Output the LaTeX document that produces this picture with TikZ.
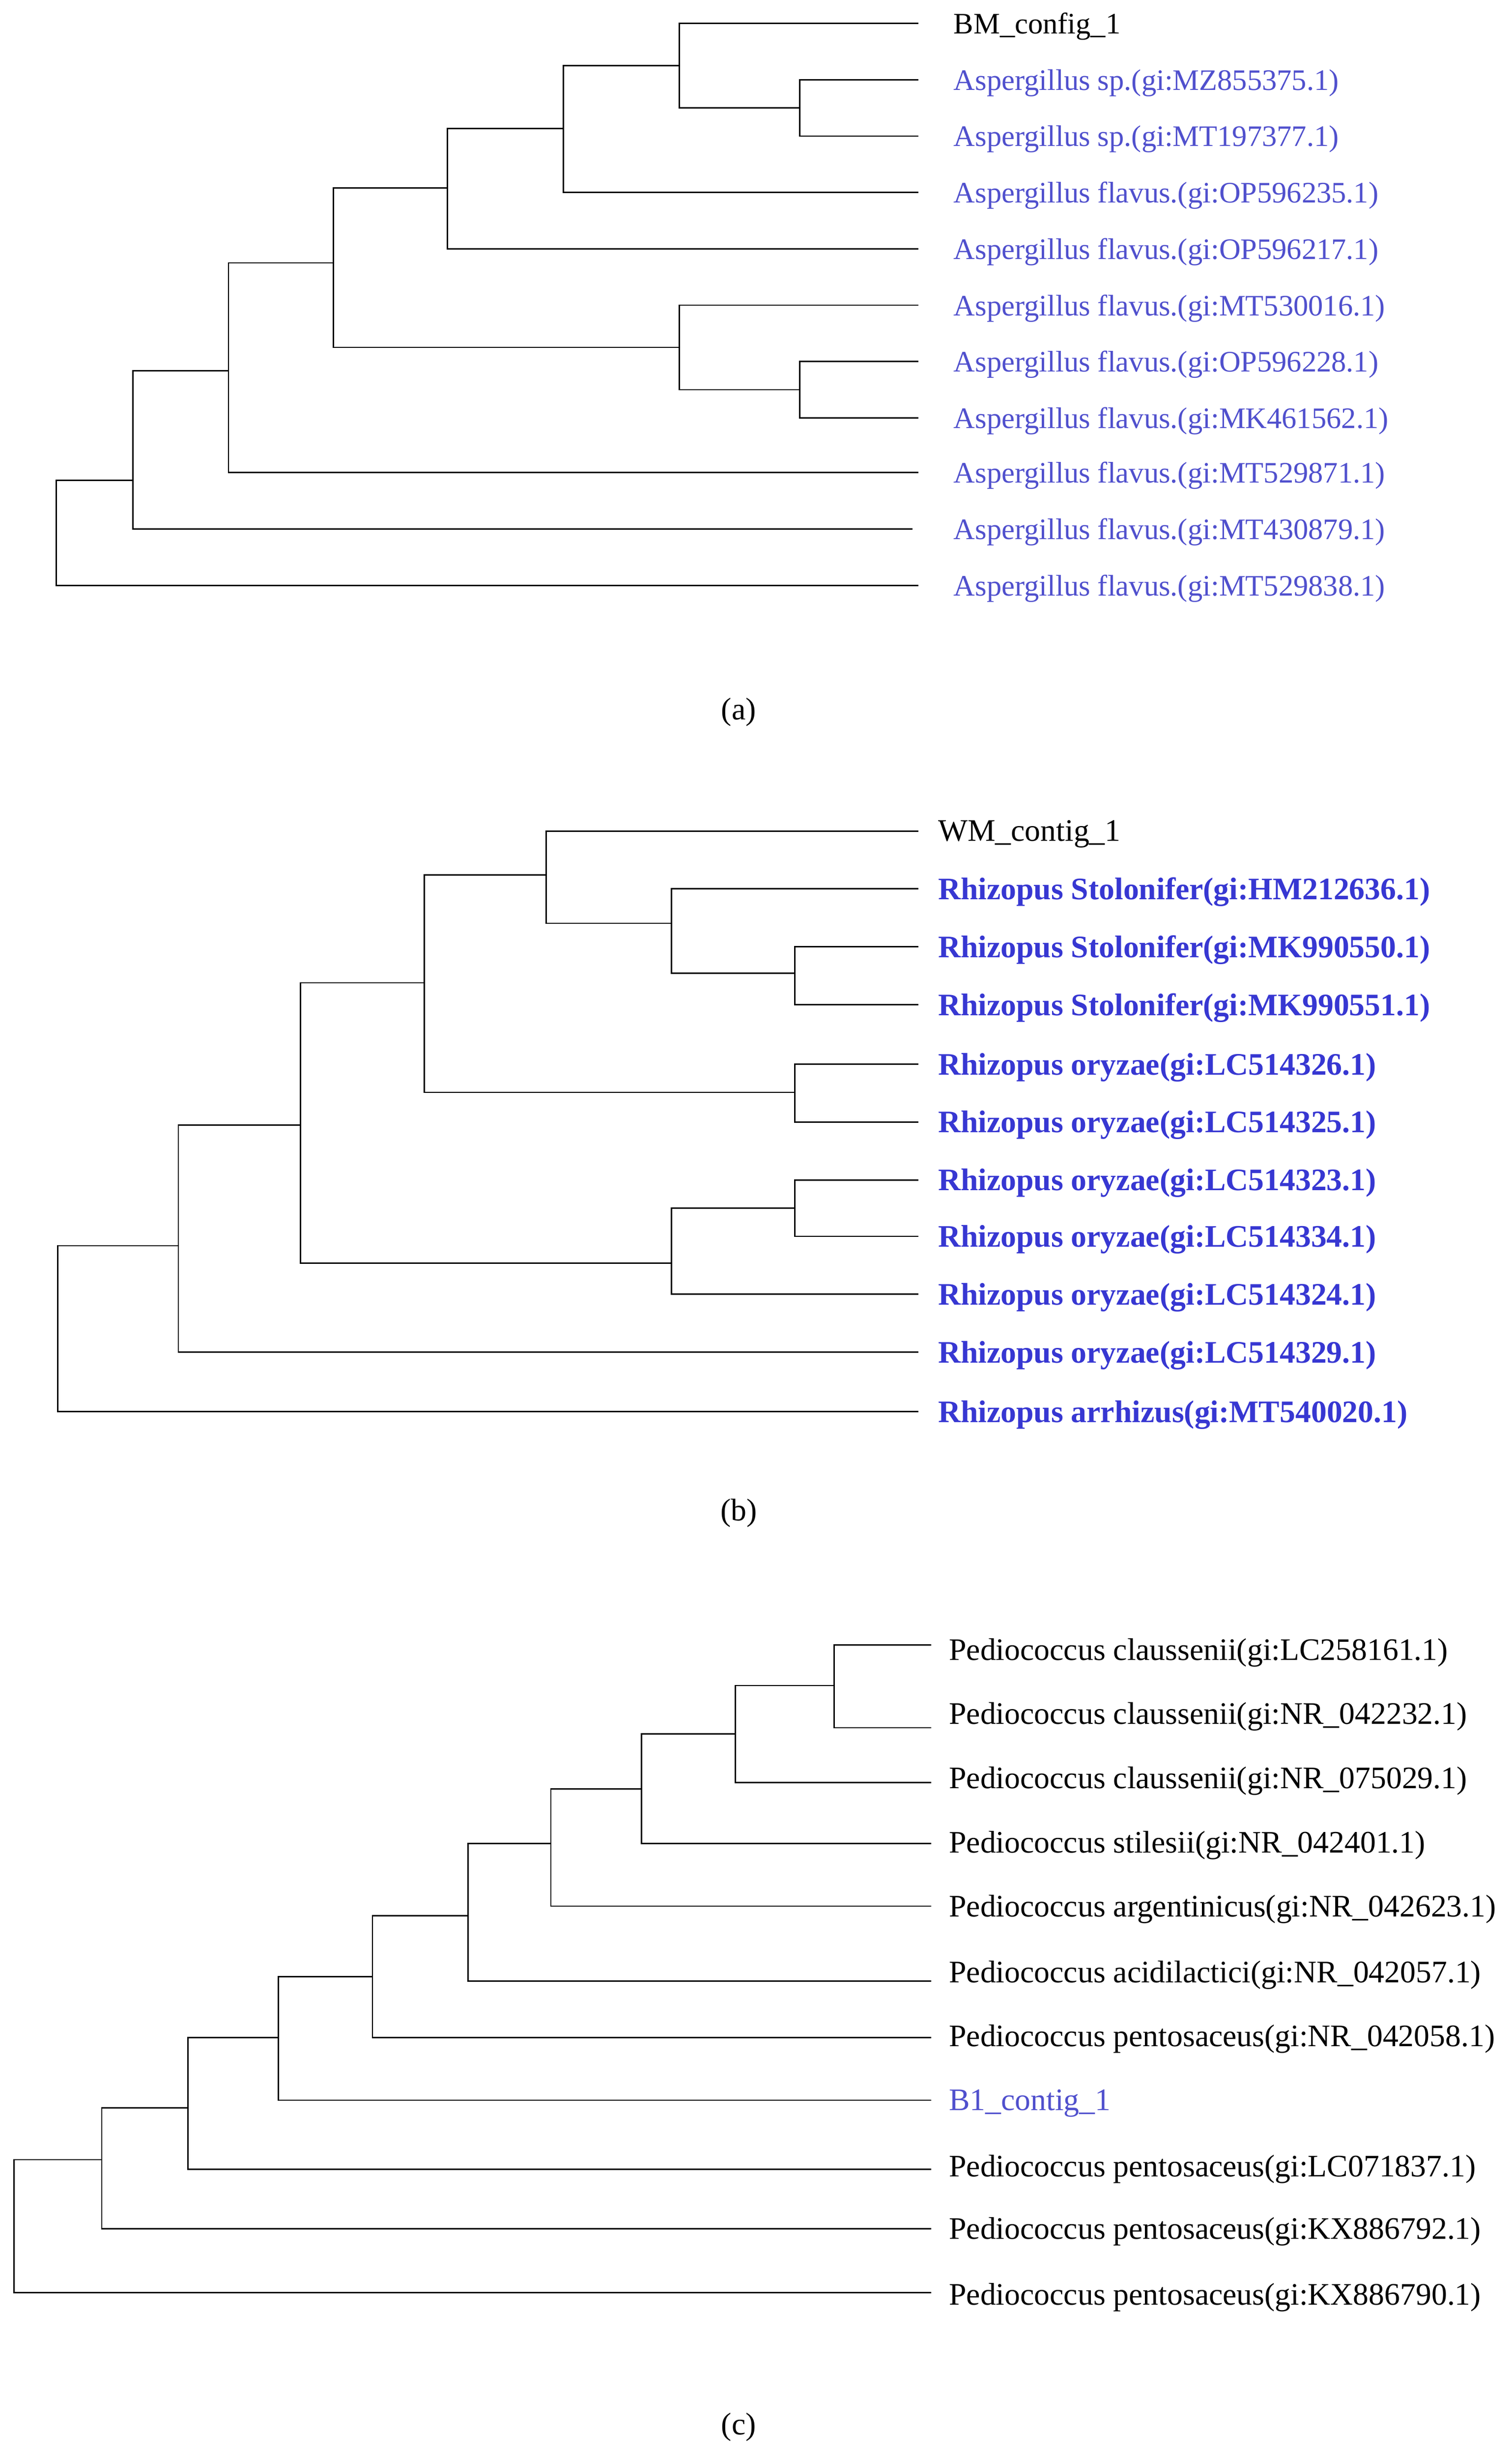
\documentclass[tikz,border=0pt]{standalone}
\usepackage{fontspec}
\setmainfont{Liberation Serif}
\begin{document}
\begin{tikzpicture}[x=1pt,y=-1pt,line width=0.9pt,
  lab/.style={anchor=west,inner sep=0pt,yshift=-2pt,font=\fontsize{19}{21}\selectfont},
  bl/.style={lab,text={rgb,255:red,80;green,80;blue,205}},
  bb/.style={lab,text={rgb,255:red,55;green,55;blue,210},font=\fontsize{20}{22}\selectfont\bfseries},
  bk/.style={lab,text=black},
  ck/.style={lab,font=\fontsize{20}{22}\selectfont},
  cb/.style={ck,text={rgb,255:red,80;green,80;blue,205}},
  captext/.style={font=\fontsize{20}{22}\selectfont},
  e/.style={draw=black}]
\useasboundingbox (0,0) rectangle (966,1570);
% ---------- (a)
\foreach \n/\y/\xe in {1/15/587,2/51/587,3/87/587,4/123/587,5/159/587,6/195/587,7/231/587,8/267/587,9/302/587,10/338/583,11/374/587}
  \coordinate (a\n) at (\xe,\y);
\node[bk] (la1) at (609,15) {BM\_config\_1};
\node[bl] (la2) at (609,51) {Aspergillus sp.(gi:MZ855375.1)};
\node[bl] (la3) at (609,87) {Aspergillus sp.(gi:MT197377.1)};
\node[bl] (la4) at (609,123) {Aspergillus flavus.(gi:OP596235.1)};
\node[bl] (la5) at (609,159) {Aspergillus flavus.(gi:OP596217.1)};
\node[bl] (la6) at (609,195) {Aspergillus flavus.(gi:MT530016.1)};
\node[bl] (la7) at (609,231) {Aspergillus flavus.(gi:OP596228.1)};
\node[bl] (la8) at (609,267) {Aspergillus flavus.(gi:MK461562.1)};
\node[bl] (la9) at (609,302) {Aspergillus flavus.(gi:MT529871.1)};
\node[bl] (la10) at (609,338) {Aspergillus flavus.(gi:MT430879.1)};
\node[bl] (la11) at (609,374) {Aspergillus flavus.(gi:MT529838.1)};
\coordinate (an1) at (511,69);
\coordinate (an2) at (434,42);
\coordinate (an3) at (360,82);
\coordinate (an4) at (286,120);
\coordinate (an5) at (511,249);
\coordinate (an6) at (434,222);
\coordinate (an7) at (213,168);
\coordinate (an8) at (146,237);
\coordinate (an9) at (85,307);
\coordinate (ar) at (36,341);
\draw[e] (an1) |- (a2) (an1) |- (a3);
\draw[e] (an2) |- (a1) (an2) |- (an1);
\draw[e] (an3) |- (an2) (an3) |- (a4);
\draw[e] (an4) |- (an3) (an4) |- (a5);
\draw[e] (an5) |- (a7) (an5) |- (a8);
\draw[e] (an6) |- (a6) (an6) |- (an5);
\draw[e] (an7) |- (an4) (an7) |- (an6);
\draw[e] (an8) |- (an7) (an8) |- (a9);
\draw[e] (an9) |- (an8) (an9) |- (a10);
\draw[e] (ar) |- (an9) (ar) |- (a11);
\node[captext] (capa) at (472,455) {(a)};
% ---------- (b)
\foreach \n/\y in {1/531,2/568,3/605,4/642,5/680,6/717,7/754,8/790,9/827,10/864,11/902}
  \coordinate (b\n) at (587,\y);
\node[ck] (lb1) at (599,531) {WM\_contig\_1};
\node[bb] (lb2) at (599,568) {Rhizopus Stolonifer(gi:HM212636.1)};
\node[bb] (lb3) at (599,605) {Rhizopus Stolonifer(gi:MK990550.1)};
\node[bb] (lb4) at (599,642) {Rhizopus Stolonifer(gi:MK990551.1)};
\node[bb] (lb5) at (599,680) {Rhizopus oryzae(gi:LC514326.1)};
\node[bb] (lb6) at (599,717) {Rhizopus oryzae(gi:LC514325.1)};
\node[bb] (lb7) at (599,754) {Rhizopus oryzae(gi:LC514323.1)};
\node[bb] (lb8) at (599,790) {Rhizopus oryzae(gi:LC514334.1)};
\node[bb] (lb9) at (599,827) {Rhizopus oryzae(gi:LC514324.1)};
\node[bb] (lb10) at (599,864) {Rhizopus oryzae(gi:LC514329.1)};
\node[bb] (lb11) at (599,902) {Rhizopus arrhizus(gi:MT540020.1)};
\coordinate (bn1) at (508,622);
\coordinate (bn2) at (429,590);
\coordinate (bn3) at (349,559);
\coordinate (bn4) at (508,698);
\coordinate (bn5) at (271,628);
\coordinate (bn6) at (508,772);
\coordinate (bn7) at (429,807);
\coordinate (bn8) at (192,719);
\coordinate (bn9) at (114,796);
\coordinate (br) at (37,849);
\draw[e] (bn1) |- (b3) (bn1) |- (b4);
\draw[e] (bn2) |- (b2) (bn2) |- (bn1);
\draw[e] (bn3) |- (b1) (bn3) |- (bn2);
\draw[e] (bn4) |- (b5) (bn4) |- (b6);
\draw[e] (bn5) |- (bn3) (bn5) |- (bn4);
\draw[e] (bn6) |- (b7) (bn6) |- (b8);
\draw[e] (bn7) |- (bn6) (bn7) |- (b9);
\draw[e] (bn8) |- (bn5) (bn8) |- (bn7);
\draw[e] (bn9) |- (bn8) (bn9) |- (b10);
\draw[e] (br) |- (bn9) (br) |- (b11);
\node[captext] (capb) at (472,967) {(b)};
% ---------- (c)
\foreach \n/\y in {1/1051,2/1104,3/1139,4/1178,5/1218,6/1266,7/1302,8/1342,9/1386,10/1424,11/1465}
  \coordinate (c\n) at (595,\y);
\node[ck] (lc1) at (606,1054) {Pediococcus claussenii(gi:LC258161.1)};
\node[ck] (lc2) at (606,1095) {Pediococcus claussenii(gi:NR\_042232.1)};
\node[ck] (lc3) at (606,1136) {Pediococcus claussenii(gi:NR\_075029.1)};
\node[ck] (lc4) at (606,1177) {Pediococcus stilesii(gi:NR\_042401.1)};
\node[ck] (lc5) at (606,1218) {Pediococcus argentinicus(gi:NR\_042623.1)};
\node[ck] (lc6) at (606,1260) {Pediococcus acidilactici(gi:NR\_042057.1)};
\node[ck] (lc7) at (606,1301) {Pediococcus pentosaceus(gi:NR\_042058.1)};
\node[cb] (lc8) at (606,1342) {B1\_contig\_1};
\node[ck] (lc9) at (606,1384) {Pediococcus pentosaceus(gi:LC071837.1)};
\node[ck] (lc10) at (606,1424) {Pediococcus pentosaceus(gi:KX886792.1)};
\node[ck] (lc11) at (606,1466) {Pediococcus pentosaceus(gi:KX886790.1)};
\coordinate (cn1) at (533,1077);
\coordinate (cn2) at (470,1108);
\coordinate (cn3) at (410,1143);
\coordinate (cn4) at (352,1178);
\coordinate (cn5) at (299,1224);
\coordinate (cn6) at (238,1263);
\coordinate (cn7) at (178,1302);
\coordinate (cn8) at (120,1347);
\coordinate (cn9) at (65,1380);
\coordinate (cr) at (9,1422);
\draw[e] (cn1) |- (c1) (cn1) |- (c2);
\draw[e] (cn2) |- (cn1) (cn2) |- (c3);
\draw[e] (cn3) |- (cn2) (cn3) |- (c4);
\draw[e] (cn4) |- (cn3) (cn4) |- (c5);
\draw[e] (cn5) |- (cn4) (cn5) |- (c6);
\draw[e] (cn6) |- (cn5) (cn6) |- (c7);
\draw[e] (cn7) |- (cn6) (cn7) |- (c8);
\draw[e] (cn8) |- (cn7) (cn8) |- (c9);
\draw[e] (cn9) |- (cn8) (cn9) |- (c10);
\draw[e] (cr) |- (cn9) (cr) |- (c11);
\node[captext] (capc) at (472,1551) {(c)};
\end{tikzpicture}
\end{document}
